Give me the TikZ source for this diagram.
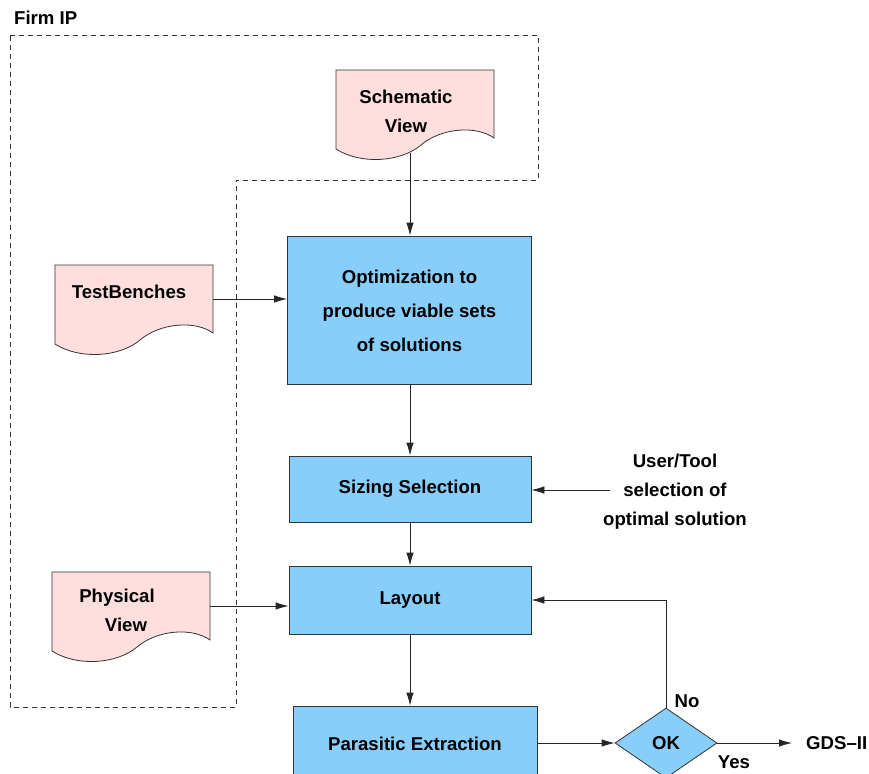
\documentclass[tikz,border=0pt]{standalone}
\usepackage{fontspec}
\setmainfont{Liberation Sans}
\usetikzlibrary{arrows.meta,shapes.geometric}
\definecolor{boxblue}{RGB}{135,206,250}
\definecolor{docpink}{RGB}{255,222,222}
\tikzset{
  every node/.style={font=\fontsize{18.6}{29}\selectfont\bfseries},
  box/.style={draw=black!80, line width=0.8pt, fill=boxblue, inner sep=0pt},
  docpath/.style={draw=black!80, line width=0.8pt, fill=docpink},
  conn/.style={draw=black!85, line width=0.8pt, -{Latex[length=13pt,width=7.5pt]}},
  border/.style={draw=black!80, line width=0.8pt, dash pattern=on 5pt off 4pt},
  lbl/.style={inner sep=0pt, align=center}
}
\newcommand\drawdoc[3]{%
  \begin{scope}[shift={(#1,#2)}]
    \path[docpath] (0,0) -- (158,0) -- (158,68)
      .. controls (140,55) and (105,58) .. (85,75)
      .. controls (65,92) and (25,95) .. (0,79) -- cycle;
    \coordinate (#3r) at (158,34);
  \end{scope}}
\begin{document}
\begin{tikzpicture}[x=1pt,y=-1pt]
\useasboundingbox (0,0) rectangle (869,773);
% Firm IP boundary
\node[lbl, anchor=west] (firm) at (14,18) {Firm IP};
\path[border] (10,35) -- (538,35) -- (538,180) -- (236,180) -- (236,707) -- (10,707) -- cycle;
% documents
\drawdoc{336}{70}{sch}
\drawdoc{55}{265}{tb}
\drawdoc{52}{572}{ph}
\coordinate (schb) at (410,153);
\node[lbl] (schtxt) at (406,111) {Schematic\\View};
\node[lbl] (tbtxt) at (129,292) {TestBenches};
\node[lbl] (phtxt) at (117,610) {Physical\\\hspace*{18pt}View};
% boxes
\node[box, minimum width=244pt, minimum height=148pt, align=center,
      font=\fontsize{18.6}{34}\selectfont\bfseries] (opt) at (409.5,310)
      {\rule{0pt}{16pt}Optimization to\\produce viable sets\\of solutions};
\node[box, minimum width=242pt, minimum height=66pt] (siz) at (410,489) {Sizing Selection};
\node[box, minimum width=242pt, minimum height=68pt] (lay) at (410,600) {Layout};
\node[box, minimum width=244pt, minimum height=76pt] (par) at (415,744) {Parasitic Extraction};
\node[draw=black!80, line width=0.8pt, fill=boxblue, diamond, inner sep=0pt,
      minimum width=102pt, minimum height=70pt, shape aspect=1.457] (ok) at (666,743) {OK};
% side texts
\node[lbl] (user) at (675,492) {User/Tool\\selection of\\optimal solution};
\coordinate (userstart) at (610,490);
\node[lbl] (no) at (687,701) {No};
\node[lbl, anchor=base] (yes) at (734,768) {Yes};
\node[lbl, anchor=west] (gds) at (806,743) {GDS--II};
\coordinate (gdsend) at (792,743);
% connectors
\draw[conn] (schb) -- (schb |- opt.north);
\draw[conn] (tbr) -- (tbr -| opt.west);
\draw[conn] (opt.south -| siz.north) -- (siz.north);
\draw[conn] (userstart) -- (userstart -| siz.east);
\draw[conn] (siz.south) -- (lay.north);
\draw[conn] (phr) -- (phr -| lay.west);
\draw[conn] (lay.south) -- (lay.south |- par.north);
\draw[conn] (par.east |- ok.west) -- (ok.west);
\draw[conn] (ok.north) |- (lay.east);
\draw[conn] (ok.east) -- (gdsend);
\end{tikzpicture}
\end{document}
